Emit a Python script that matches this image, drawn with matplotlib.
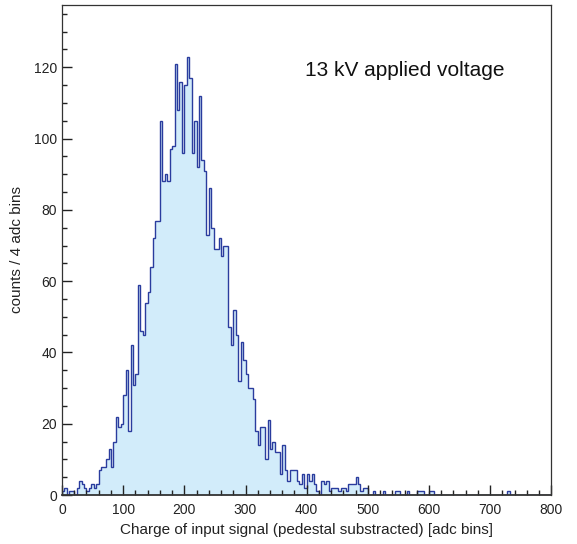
import matplotlib
matplotlib.use("Agg")
import matplotlib.pyplot as plt
import numpy as np
from matplotlib.ticker import MultipleLocator

plt.rcParams['font.family'] = ['Liberation Sans', 'DejaVu Sans']

# Histogram data: counts per 4 adc bins, 0..800
bin_width = 4
counts = [
    1, 2, 0, 1, 1, 0, 2, 4, 3, 2, 1, 2, 3, 2, 3, 7, 8, 8, 10, 13,
    8, 15, 22, 19, 20, 28, 35, 18, 42, 31, 34, 59, 46, 45, 54, 57, 64, 72, 77, 77,
    105, 88, 90, 88, 97, 98, 121, 108, 116, 96, 115, 123, 117, 96, 105, 92, 112, 94, 91, 73,
    86, 75, 69, 69, 72, 67, 70, 70, 47, 42, 52, 45, 32, 43, 38, 34, 30, 30, 27, 18,
    14, 19, 19, 10, 21, 13, 15, 12, 12, 6, 14, 7, 4, 7, 7, 7, 4, 3, 6, 2,
    6, 4, 6, 3, 1, 0, 4, 3, 4, 1, 2, 2, 2, 1, 2, 2, 1, 3, 3, 3,
    5, 3, 1, 2, 2, 0, 0, 1, 0, 0, 0, 1, 0, 0, 0, 0, 1, 1, 0, 0,
    0, 1, 0, 0, 0, 1, 1, 1, 0, 0, 1, 1, 0, 0, 0, 0, 0, 0, 0, 0,
    0, 0, 0, 0, 0, 0, 0, 0, 0, 0, 0, 0, 0, 0, 0, 0, 0, 0, 0, 0,
    0, 0, 1, 0, 0, 0, 0, 0, 0, 0, 0, 0, 0, 0, 0, 0, 0, 0, 0, 0,
]
edges = np.arange(len(counts) + 1) * bin_width

x_label = "Charge of input signal (pedestal substracted) [adc bins]"
y_label = "counts / 4 adc bins"
annotation = "13 kV applied voltage"

fig = plt.figure(figsize=(5.77, 5.44), dpi=100)
ax = fig.add_axes([0.1075, 0.090, 0.848, 0.901])

ax.stairs(counts, edges, fill=True, color="#d2ecfa")
ax.stairs(counts, edges, color="#2a3c9e", lw=1.0)

ax.set_xlim(0, 800)
ax.set_ylim(0, 137.5)

ax.xaxis.set_major_locator(MultipleLocator(100))
ax.xaxis.set_minor_locator(MultipleLocator(20))
ax.yaxis.set_major_locator(MultipleLocator(20))
ax.yaxis.set_minor_locator(MultipleLocator(5))

ax.tick_params(which="both", direction="in", top=False, right=False,
               colors="#222222", labelsize=10)
ax.tick_params(which="major", length=7, width=1.0)
ax.tick_params(which="minor", length=3.5, width=1.0)
ax.tick_params(axis="x", pad=6)

for s in ax.spines.values():
    s.set_color("#333333")
    s.set_linewidth(0.9)
ax.spines["bottom"].set_linewidth(1.3)

ax.set_xlabel(x_label, fontsize=11, color="#222222", labelpad=4)
ax.set_ylabel(y_label, fontsize=11, color="#222222", labelpad=7)

ax.text(398, 119, annotation, fontsize=15, color="#111111", va="center")

fig.savefig("out.png", dpi=100)
